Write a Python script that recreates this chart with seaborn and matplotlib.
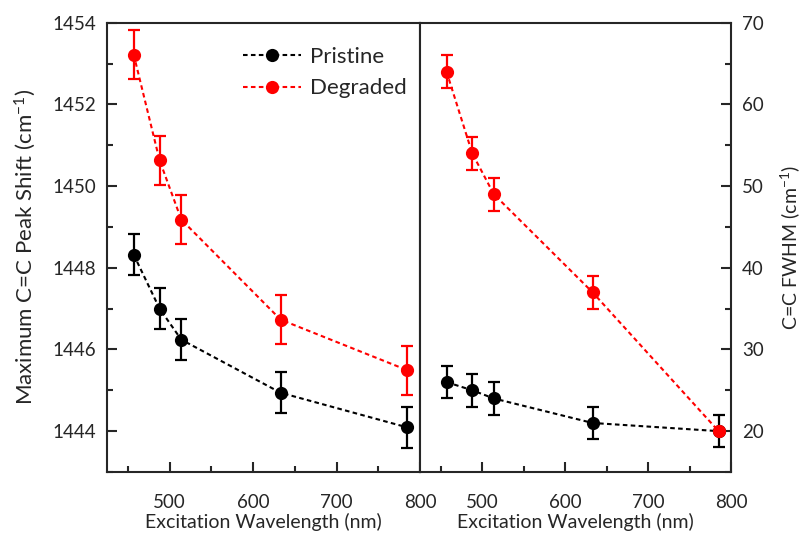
import matplotlib
matplotlib.use("Agg")
import matplotlib.pyplot as plt
import seaborn as sns
import pandas as pd
import numpy as np
from matplotlib.ticker import MultipleLocator

# ---- data ----
wavelengths = [457, 488, 514, 633, 785]
series = ["Pristine", "Degraded"]
colors = {"Pristine": "black", "Degraded": "#ff0000"}

peak_pristine = [1448.32, 1447.00, 1446.24, 1444.94, 1444.09]
peak_pristine_err = [0.5, 0.5, 0.5, 0.5, 0.5]
peak_degraded = [1453.22, 1450.63, 1449.18, 1446.73, 1445.49]
peak_degraded_err = [0.6, 0.6, 0.6, 0.6, 0.6]

fwhm_pristine = [26.0, 25.0, 24.0, 21.0, 20.0]
fwhm_pristine_err = [2.0, 2.0, 2.0, 2.0, 2.0]
fwhm_degraded = [64.0, 54.0, 49.0, 37.0, 20.0]
fwhm_degraded_err = [2.0, 2.0, 2.0, 2.0, 0.0]

xticks = [500, 600, 700, 800]
peak_yticks = [1444, 1446, 1448, 1450, 1452, 1454]
fwhm_yticks = [20, 30, 40, 50, 60, 70]

sns.set_style("ticks")
plt.rcParams["font.family"] = ["Lato", "DejaVu Sans"]
plt.rcParams["mathtext.fontset"] = "custom"
plt.rcParams["mathtext.rm"] = "Lato"
plt.rcParams["mathtext.it"] = "Lato"

fig = plt.figure(figsize=(8.02, 5.35), dpi=100)
ax1 = fig.add_axes([0.1334, 0.1178, 0.3903, 0.8398])
ax2 = fig.add_axes([0.5237, 0.1178, 0.3878, 0.8398])

def make_df(y, err, name):
    return pd.DataFrame({"wl": wavelengths, "val": y, "err": err, "series": name})

peak_df = pd.concat([make_df(peak_pristine, peak_pristine_err, "Pristine"),
                     make_df(peak_degraded, peak_degraded_err, "Degraded")])
fwhm_df = pd.concat([make_df(fwhm_pristine, fwhm_pristine_err, "Pristine"),
                     make_df(fwhm_degraded, fwhm_degraded_err, "Degraded")])

line_kw = dict(linewidth=1.5, dashes=(2.2, 1.6), marker="o", markersize=9.5,
               markeredgewidth=0)

for ax, df in [(ax1, peak_df), (ax2, fwhm_df)]:
    for name in series:
        sub = df[df["series"] == name]
        c = colors[name]
        ax.errorbar(sub["wl"], sub["val"], yerr=sub["err"], fmt="none",
                    ecolor=c, elinewidth=1.6, capsize=4.5, capthick=1.6, zorder=2)
        sns.lineplot(data=sub, x="wl", y="val", ax=ax, color=c, label=name,
                     zorder=3, legend=False, **line_kw)

# limits and ticks
for ax in (ax1, ax2):
    ax.set_xlim(425, 800)
    ax.set_xticks(xticks)
    ax.xaxis.set_minor_locator(MultipleLocator(50))
    ax.set_xlabel("Excitation Wavelength (nm)", fontsize=14, labelpad=1)
    ax.tick_params(axis="both", which="major", direction="in", length=7,
                   width=1.5, labelsize=13.5)
    ax.tick_params(axis="both", which="minor", direction="in", length=4,
                   width=1.5)
    ax.tick_params(axis="x", which="major", pad=16)
    ax.tick_params(axis="y", which="major", pad=8)
    for sp in ax.spines.values():
        sp.set_visible(True)
        sp.set_linewidth(1.5)

ax1.set_ylim(1443, 1454)
ax1.set_yticks(peak_yticks)
ax1.yaxis.set_minor_locator(MultipleLocator(1))
ax1.set_ylabel("Maximum C=C Peak Shift (cm$^{-1}$)", fontsize=16, labelpad=10)
ax1.tick_params(axis="y", which="both", left=True, right=False)

ax2.set_ylim(15, 70)
ax2.set_yticks(fwhm_yticks)
ax2.yaxis.set_minor_locator(MultipleLocator(5))
ax2.yaxis.tick_right()
ax2.yaxis.set_label_position("right")
ax2.tick_params(axis="y", which="both", left=False, right=True)
ax2.set_ylabel("C=C FWHM (cm$^{-1}$)", fontsize=14, labelpad=10)

handles, labels = ax1.get_legend_handles_labels()
ax1.legend(handles, labels, loc="upper right", bbox_to_anchor=(1.02, 0.99),
           frameon=False, fontsize=16, handlelength=2.6, handletextpad=0.4,
           labelspacing=0.5)

fig.savefig("out.png", dpi=100)
